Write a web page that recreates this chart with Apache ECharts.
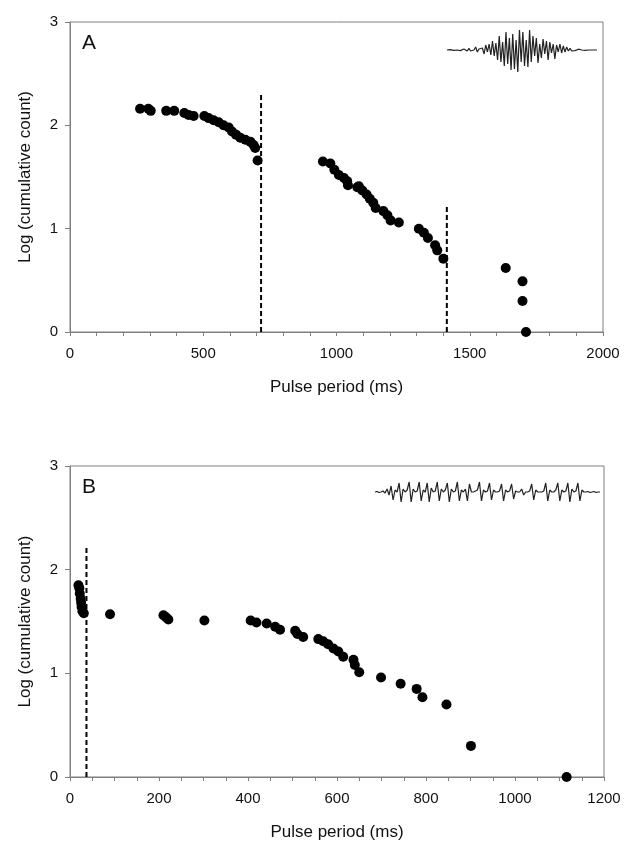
<!DOCTYPE html>
<html>
<head>
<meta charset="utf-8">
<script src="https://cdn.jsdelivr.net/npm/echarts@6/dist/echarts.min.js"></script>
<style>
  html, body { margin: 0; padding: 0; background: #fff; }
  #chart { width: 625px; height: 846px; }
</style>
</head>
<body>
<div id="chart"></div>
<script>
// panel A
const periodA = [263, 294, 303, 361, 391, 429, 445, 464, 504, 520, 539, 558, 576, 595, 608, 623, 639, 658, 677, 689, 695, 704,
  949, 977, 992, 1009, 1028, 1040, 1043, 1078, 1084, 1097, 1113, 1125, 1138, 1147, 1176, 1191, 1203, 1234,
  1309, 1328, 1343, 1370, 1378, 1401, 1635, 1698, 1698, 1711]
const logCountA = [2.16, 2.16, 2.14, 2.14, 2.14, 2.12, 2.10, 2.09, 2.09, 2.07, 2.05, 2.03, 2.00, 1.98, 1.94, 1.91, 1.88, 1.86, 1.84, 1.81, 1.78, 1.66,
  1.65, 1.63, 1.57, 1.52, 1.49, 1.46, 1.42, 1.40, 1.41, 1.37, 1.33, 1.29, 1.25, 1.20, 1.17, 1.13, 1.08, 1.06,
  1.00, 0.96, 0.91, 0.84, 0.79, 0.71, 0.62, 0.49, 0.30, 0.00]
const cutA = [717, 1414]
const cutTopA = [2.31, 1.23]

// panel B
const periodB = [19, 21, 22, 24, 25, 26, 28, 31, 90, 210, 216, 221, 302, 406, 419, 442, 461, 472, 506, 511, 524,
  558, 569, 580, 592, 603, 614, 637, 640, 650, 699, 743, 779, 792, 846, 901, 1116]
const logCountB = [1.85, 1.82, 1.77, 1.72, 1.68, 1.64, 1.60, 1.58, 1.57, 1.56, 1.54, 1.52, 1.51, 1.51, 1.49, 1.48, 1.45, 1.42, 1.41, 1.38, 1.35,
  1.33, 1.31, 1.28, 1.24, 1.21, 1.16, 1.13, 1.08, 1.01, 0.96, 0.90, 0.85, 0.77, 0.70, 0.30, 0.00]
const cutB = [37]
const cutTopB = [2.21]

// oscillogram insets (amplitude)
const waveA = [0, 0, 0.02, 0, -0.02, 0, 0, 0.03, -0.03, 0, 0.05, 0, -0.05, 0.08, -0.05, 0, 0, 0.15, -0.1, 0.05, 0, 0.1, -0.2, 0.25, -0.1,
  0.3, -0.25, 0.45, -0.3, 0.35, -0.5, 0.7, -0.6, 0.4, -0.8,
  0.9, -0.7, 0.6, -1, 0.8, -0.95, 0.5, -1.1, 1, -0.6, 0.9, -0.8, 0.5, -0.85, 1, -0.6, 0.7, -0.3, 0.6, -0.65, 0.3, -0.4, 0.55, -0.2, 0.45,
  -0.5, 0.4, -0.15, 0.3, -0.45, 0.25, -0.1, 0.3, -0.15, 0.2, -0.1, 0.15, -0.05, 0.08, -0.05,
  0.05, -0.03, 0, 0.04, -0.02, 0, 0.03, -0.02, 0, 0, 0.02, 0, -0.01, 0, 0]
const waveB = [0, 0.05, -0.05, 0, 0.1, -0.1, 0.3, -0.3,
  0.6, -0.8, 0.2, 0, 0.9, -1, 0.3, 0, 0.2, 1, -1, 0.3, 0, 0.1, 1, -0.9, 0.2,
  0, 0.9, -1, 0.4, 0, 0.1, 1, -0.9, 0.3, 0, 0.2, 0.9, -1, 0.3, 0, 0.1, 1, -0.9, 0.2, 0,
  0.3, -0.9, 0.8, 0, 0, 0.1, 0.2, 1, -0.9, 0.2, 0, 0.1, 0.9, -0.8, 0.2,
  0, 0, 0.1, 0.8, -0.9, 0.2, 0, 0.1, 0.8, -0.7, 0.1, 0, 0, 0.3, -0.3, 0,
  0, 0.1, 0.8, -0.8, 0.2, 0, 0, 0, 0.1, 0.9, -0.9, 0.2, 0, 0, 0.2, 0.9, -0.9, 0.2,
  0, 0.1, 0.9, -1, 0.3, 0, 0.1, 0.9, -0.9, 0.2, 0, 0, 0.05, -0.05, 0, 0.05, -0.05, 0, 0]

const zip = (xs, ys) => xs.map((x, i) => [x, ys[i]])
const cutLines = (xs, tops) => xs.map((x, i) => [[x, 0], [x, tops[i]]])

const gray = '#7f7f7f'
const font = 'Liberation Sans, Arial, sans-serif'

const valueX = (gridIndex, max, interval, split) => ({
  type: 'value', gridIndex: gridIndex, min: 0, max: max, interval: interval,
  name: 'Pulse period (ms)', nameLocation: 'middle', nameGap: 47,
  nameTextStyle: { fontSize: 17, color: '#111', fontFamily: font },
  axisLine: { onZero: false, lineStyle: { color: gray } },
  axisTick: { length: 4, lineStyle: { color: gray } },
  minorTick: { show: true, splitNumber: split, length: 4, lineStyle: { color: gray } },
  axisLabel: { fontSize: 15, color: '#111', margin: 14, fontFamily: font, formatter: v => String(v) },
  splitLine: { show: false }
})
const valueY = (gridIndex) => ({
  type: 'value', gridIndex: gridIndex, min: 0, max: 3, interval: 1,
  name: 'Log (cumulative count)', nameLocation: 'middle', nameGap: 36,
  nameTextStyle: { fontSize: 17, color: '#111', fontFamily: font },
  axisLine: { show: true, lineStyle: { color: gray } },
  axisTick: { show: true, length: 5, lineStyle: { color: gray } },
  axisLabel: { fontSize: 15, color: '#111', margin: 12, fontFamily: font },
  splitLine: { show: false }
})
const hiddenX = (gridIndex, n) => ({
  type: 'category', gridIndex: gridIndex, show: false, boundaryGap: false,
  data: Array.from({ length: n }, (_, i) => i)
})
const hiddenY = (gridIndex) => ({ type: 'value', gridIndex: gridIndex, show: false, min: -1.1, max: 1.1 })

const dots = (xi, yi, data) => ({
  type: 'scatter', xAxisIndex: xi, yAxisIndex: yi, data: data,
  symbolSize: 10, itemStyle: { color: '#000', opacity: 1 }, silent: true
})
const cuts = (xi, yi, segs) => segs.map(seg => ({
  type: 'line', xAxisIndex: xi, yAxisIndex: yi, data: seg, showSymbol: false,
  lineStyle: { color: '#000', width: 2, type: [5, 3] }, silent: true
}))
const trace = (xi, yi, data) => ({
  type: 'line', xAxisIndex: xi, yAxisIndex: yi, data: data, showSymbol: false,
  lineStyle: { color: '#222', width: 1.2 }, silent: true
})

const myChart = echarts.init(document.getElementById('chart'), null, { renderer: 'canvas' })
myChart.setOption({
  animation: false,
  backgroundColor: '#fff',
  textStyle: { fontFamily: font },
  grid: [
    { left: 70, top: 22, width: 533, height: 310, show: true, borderColor: gray, borderWidth: 1 },
    { left: 70, top: 466, width: 534, height: 311, show: true, borderColor: gray, borderWidth: 1 },
    { left: 447, top: 28, width: 150, height: 44 },
    { left: 375, top: 481, width: 225, height: 22 }
  ],
  xAxis: [
    valueX(0, 2000, 500, 5),
    valueX(1, 1200, 200, 4),
    hiddenX(2, waveA.length),
    hiddenX(3, waveB.length)
  ],
  yAxis: [valueY(0), valueY(1), hiddenY(2), hiddenY(3)],
  graphic: [
    { type: 'text', left: 82, top: 33, style: { text: 'A', fontSize: 21, fill: '#111', fontFamily: font } },
    { type: 'text', left: 82, top: 477, style: { text: 'B', fontSize: 21, fill: '#111', fontFamily: font } }
  ],
  series: [
    dots(0, 0, zip(periodA, logCountA)),
    ...cuts(0, 0, cutLines(cutA, cutTopA)),
    dots(1, 1, zip(periodB, logCountB)),
    ...cuts(1, 1, cutLines(cutB, cutTopB)),
    trace(2, 2, waveA),
    trace(3, 3, waveB)
  ]
})
</script>
</body>
</html>
